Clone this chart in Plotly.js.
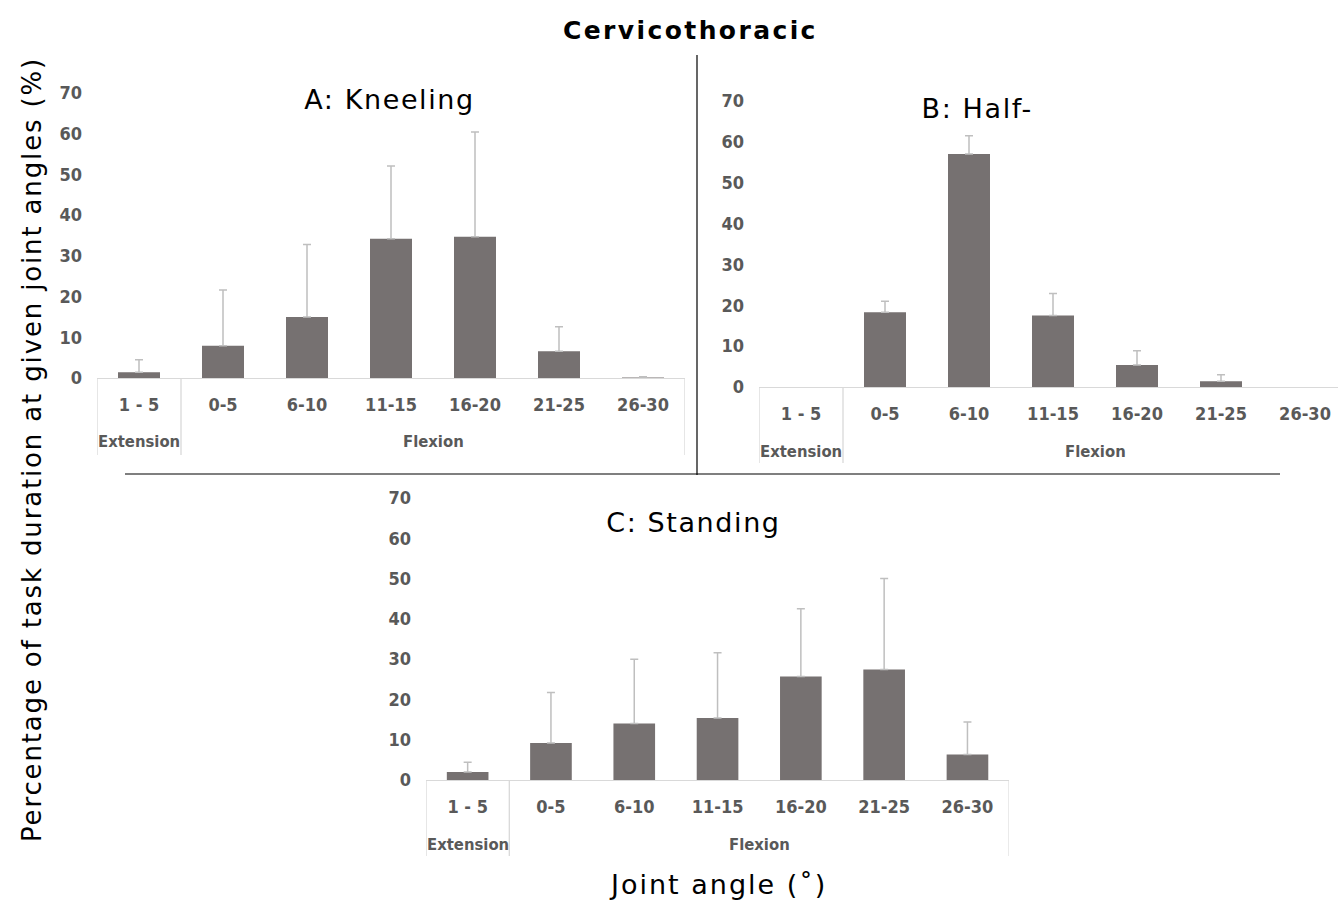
<!DOCTYPE html>
<html><head><meta charset="utf-8">
<script src="https://cdn.plot.ly/plotly-3.0.1.min.js"></script>
<style>body{margin:0;padding:0;background:#fff}#chart{width:1338px;height:901px}</style>
</head><body><div id="chart"></div>
<script>
const categories = ["1 - 5","0-5","6-10","11-15","16-20","21-25","26-30"];
const groupLabels = ["Extension","Flexion"];
const kneelingMean = [1.4, 7.9, 15.0, 34.2, 34.7, 6.6, 0.1];
const kneelingSD   = [3.1, 13.7, 17.8, 17.9, 25.7, 6.0, 0.2];
const halfMean     = [0, 18.3, 57.0, 17.5, 5.4, 1.4, 0];
const halfSD       = [null, 2.7, 4.5, 5.4, 3.5, 1.6, null];
const standingMean = [2.0, 9.2, 14.0, 15.4, 25.7, 27.4, 6.3];
const standingSD   = [2.4, 12.5, 16.0, 16.2, 16.8, 22.6, 8.1];
const panelTitles = ["A: Kneeling","B: Half-","C: Standing"];
const mainTitle = "Cervicothoracic";
const yTitle = "Percentage of task duration at given joint angles (%)";
const xTitle = "Joint angle (˚)";
const yTicks = [0,10,20,30,40,50,60,70];

const W = 1338, H = 901;
const px = v => v / W, py = v => 1 - v / H;
const barColor = '#767171', errColor = '#bfbfbf', boxColor = '#d9d9d9', tickColor = '#595959';
const narrow = '"Liberation Sans Narrow", "DejaVu Sans Condensed", Roboto, sans-serif';
const sans = '"DejaVu Sans", Verdana, sans-serif';

function barTrace(mean, sd, xa, ya) {
  return {type:'bar', x: categories, y: mean.map((v, k) => (v === 0 && sd[k] == null) ? null : v), xaxis: xa, yaxis: ya,
    marker:{color: barColor, line:{width:0}}, hoverinfo:'skip',
    error_y:{type:'data', symmetric:false, array: sd, arrayminus: sd.map(v => v == null ? null : 0),
      color: errColor, thickness: 1.5, width: 4}};
}
const data = [
  barTrace(kneelingMean, kneelingSD, 'x', 'y'),
  barTrace(halfMean, halfSD, 'x2', 'y2'),
  barTrace(standingMean, standingSD, 'x3', 'y3')
];

function xax(domain, range, anchor) {
  return {domain: domain, range: range, type:'category', categoryarray: categories,
    anchor: anchor, showline: true, linecolor: boxColor, linewidth: 1.3, showgrid:false, zeroline:false,
    ticks:'', ticklabelstandoff: 10, tickfont:{family: narrow, size: 18, color: tickColor, weight: 'bold'}, fixedrange:true};
}
function yax(domain, anchor) {
  return {domain: domain, range:[0,70], anchor: anchor, tickvals: yTicks, showline:false, showgrid:false,
    zeroline:false, ticks:'', ticklabelstandoff: 14, tickfont:{family: narrow, size: 18, color: tickColor, weight:'bold'}, fixedrange:true};
}

const panels = [
  {xa:'x', ya:'y', left:97, cat:84, axisY:378, topY:93, boxBottom:455, groupY:441, title:[389,99]},
  {xa:'x2', ya:'y2', left:759, cat:84, axisY:387, topY:101, boxBottom:463, groupY:451, title:[977,108]},
  {xa:'x3', ya:'y3', left:426, cat:83.3, axisY:780, topY:498, boxBottom:856, groupY:844, title:[693,522]}
];

const layout = {width: W, height: H, margin:{l:0,r:0,t:0,b:0}, paper_bgcolor:'#fff', plot_bgcolor:'rgba(0,0,0,0)',
  showlegend:false, bargap:0.5, shapes:[], annotations:[]};

panels.forEach((p, i) => {
  const right = Math.min(p.left + 7 * p.cat, W);
  const rmax = (right - p.left) / p.cat - 0.5;
  const sfx = i === 0 ? '' : String(i + 1);
  layout['xaxis' + sfx] = xax([px(p.left), px(right)], [-0.5, rmax], p.ya);
  layout['yaxis' + sfx] = yax([py(p.axisY), py(p.topY)], p.xa);
  [-0.5, 0.5, 6.5].forEach(xv => {
    layout.shapes.push({type:'line', xref: p.xa, yref:'paper', x0: xv, x1: xv, y0: py(p.axisY), y1: py(p.boxBottom),
      line:{color: boxColor, width: 1.3}});
  });
  layout.annotations.push({xref: p.xa, yref:'paper', x: 0, y: py(p.groupY), text: groupLabels[0], showarrow:false,
    xanchor:'center', yanchor:'middle', font:{family: narrow, size: 16.5, color: tickColor, weight:'bold'}});
  layout.annotations.push({xref: p.xa, yref:'paper', x: 3.5, y: py(p.groupY), text: groupLabels[1], showarrow:false,
    xanchor:'center', yanchor:'middle', font:{family: narrow, size: 16.5, color: tickColor, weight:'bold'}});
  layout.annotations.push({xref:'paper', yref:'paper', x: px(p.title[0]), y: py(p.title[1]), text: panelTitles[i],
    showarrow:false, xanchor:'center', yanchor:'middle', font:{family: sans, size: 27, color:'#000'}});
});

// separators
layout.shapes.push({type:'line', xref:'paper', yref:'paper', x0: px(697), x1: px(697), y0: py(55), y1: py(475), line:{color:'#000', width:1.2}});
layout.shapes.push({type:'line', xref:'paper', yref:'paper', x0: px(125), x1: px(1280), y0: py(474), y1: py(474), line:{color:'#000', width:1.2}});

layout.annotations.push({xref:'paper', yref:'paper', x: px(690), y: py(30), text:'<b>' + mainTitle + '</b>', showarrow:false,
  xanchor:'center', yanchor:'middle', font:{family: sans, size: 25, color:'#000'}});
layout.annotations.push({xref:'paper', yref:'paper', x: px(32), y: py(450), text: yTitle,
  textangle:-90, showarrow:false, xanchor:'center', yanchor:'middle', font:{family: sans, size: 26, color:'#000'}});
layout.annotations.push({xref:'paper', yref:'paper', x: px(718), y: py(884), text: xTitle, showarrow:false,
  xanchor:'center', yanchor:'middle', font:{family: sans, size: 27, color:'#000'}});

const spacing = {};
spacing[mainTitle] = 2.4; spacing[yTitle] = 1.85; spacing[xTitle] = 2;
panelTitles.forEach(t => spacing[t] = 1.6);

Plotly.newPlot('chart', data, layout, {displayModeBar:false, staticPlot:true}).then(gd => {
  gd.querySelectorAll('.annotation-text').forEach(el => {
    const s = spacing[el.textContent];
    if (s) el.style.letterSpacing = s + 'px';
  });
});
</script></body></html>
